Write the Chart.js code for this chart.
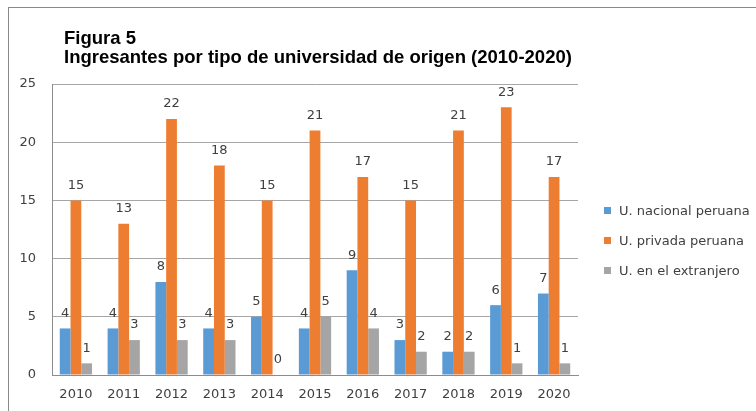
<!DOCTYPE html>
<html>
<head>
<meta charset="utf-8">
<script src="https://cdn.jsdelivr.net/npm/chart.js@4.4.1/dist/chart.umd.min.js"></script>
<style>
  html, body { margin: 0; padding: 0; background: #fff; overflow: hidden; }
  #wrap { position: relative; width: 756px; height: 411px; overflow: hidden; }
  #frame { position: absolute; left: 8px; top: 7px; width: 900px; height: 600px; border: 1px solid #8a8a8a; }
  #title { position: absolute; left: 64px; top: 28px; font: bold 18.5px "Liberation Sans", Arial, sans-serif; line-height: 19px; color: #000; white-space: nowrap; }
  #chart { position: absolute; left: 0; top: 0; }
  #legend { position: absolute; left: 604px; top: 196px; font: 13px "DejaVu Sans", sans-serif; color: #404040; white-space: nowrap; }
  #legend .item { height: 30px; line-height: 30px; }
  #legend .box { display: inline-block; width: 7px; height: 7px; margin-right: 8px; vertical-align: 1px; }
</style>
</head>
<body>
<div id="wrap">
  <div id="frame"></div>
  <canvas id="chart" width="756" height="411"></canvas>
  <div id="title">Figura 5<br>Ingresantes por tipo de universidad de origen (2010-2020)</div>
  <div id="legend"></div>
</div>
<script>
'use strict';

/* DATA */
const years = ['2010','2011','2012','2013','2014','2015','2016','2017','2018','2019','2020'];
const nacional = [4, 4, 8, 4, 5, 4, 9, 3, 2, 6, 7];
const privada = [15, 13, 22, 18, 15, 21, 17, 15, 21, 23, 17];
const extranjero = [1, 3, 3, 3, 0, 5, 4, 2, 2, 1, 1];
const seriesNames = ['U. nacional peruana', 'U. privada peruana', 'U. en el extranjero'];
const colors = ['#5B9BD5', '#ED7D31', '#A5A5A5'];

const FONT = "'DejaVu Sans', sans-serif";

/* value labels above bars */
const barLabels = {
  id: 'barLabels',
  afterDatasetsDraw(chart) {
    const ctx = chart.ctx;
    ctx.save();
    ctx.font = '13px ' + FONT;
    ctx.fillStyle = '#404040';
    ctx.textAlign = 'center';
    ctx.textBaseline = 'middle';
    chart.data.datasets.forEach((ds, i) => {
      chart.getDatasetMeta(i).data.forEach((bar, j) => {
        ctx.fillText(String(ds.data[j]), bar.x, bar.y - 15);
      });
    });
    ctx.restore();
  }
};

/* html legend built from the datasets */
const htmlLegend = {
  id: 'htmlLegend',
  afterUpdate(chart) {
    const box = document.getElementById('legend');
    box.innerHTML = '';
    chart.data.datasets.forEach(ds => {
      const row = document.createElement('div');
      row.className = 'item';
      const sw = document.createElement('span');
      sw.className = 'box';
      sw.style.background = ds.backgroundColor;
      row.appendChild(sw);
      row.appendChild(document.createTextNode(ds.label));
      box.appendChild(row);
    });
  }
};

new Chart(document.getElementById('chart'), {
  type: 'bar',
  data: {
    labels: years,
    datasets: [nacional, privada, extranjero].map((d, i) => ({
      label: seriesNames[i],
      data: d,
      backgroundColor: colors[i],
      categoryPercentage: 0.675,
      barPercentage: 1.0
    }))
  },
  options: {
    responsive: false,
    animation: false,
    layout: { padding: { top: 84, right: 178, bottom: 0, left: 0 } },
    plugins: { legend: { display: false }, title: { display: false }, tooltip: { enabled: false } },
    scales: {
      x: {
        grid: { display: false, drawTicks: false },
        border: { color: '#8c8c8c', width: 1 },
        ticks: { color: '#404040', font: { family: FONT, size: 13 }, padding: 12, maxRotation: 0 },
        afterFit(s) { s.height = 36; }
      },
      y: {
        min: 0, max: 25,
        grid: { color: '#a6a6a6', drawTicks: false },
        border: { color: '#8c8c8c', width: 1 },
        ticks: { stepSize: 5, color: '#404040', font: { family: FONT, size: 13 }, padding: 16 },
        afterFit(s) { s.width = 52; }
      }
    }
  },
  plugins: [barLabels, htmlLegend]
});
</script>
</body>
</html>
